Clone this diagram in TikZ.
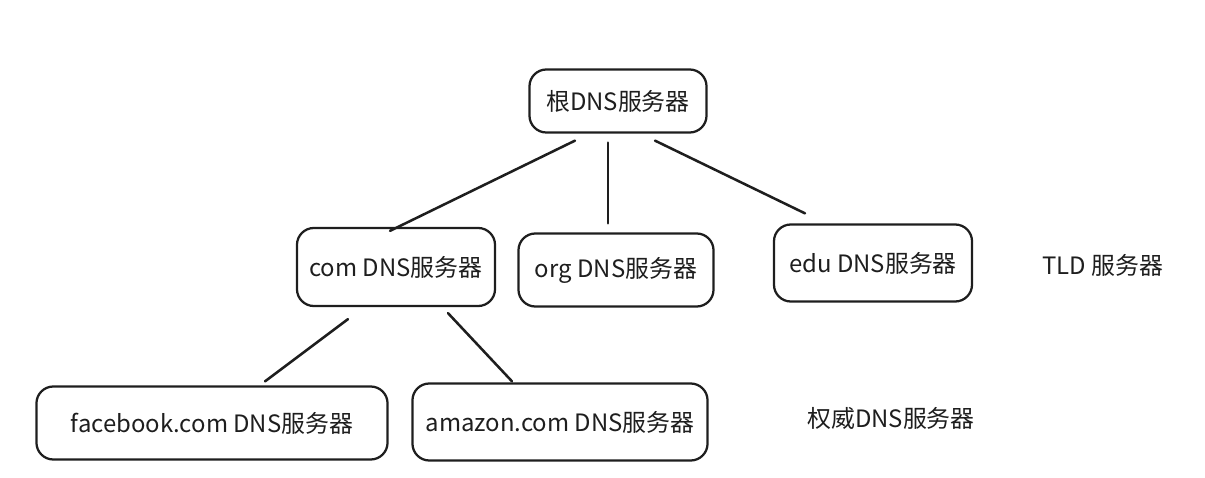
\documentclass[tikz,border=0pt]{standalone}
\usepackage{fontspec}
\setmainfont{Noto Sans CJK SC}
\usetikzlibrary{calc}
\definecolor{ink}{HTML}{1E1E1E}
\begin{document}
\begin{tikzpicture}[x=0.025cm,y=-0.025cm,
    box/.style={draw=ink,line width=1.6pt,rounded corners=12pt,font=\fontsize{17}{20}\selectfont,text=ink},
    lbl/.style={font=\fontsize{17}{20}\selectfont,text=ink},
    edge/.style={draw=ink,line width=1.8pt,line cap=round}]
    \useasboundingbox (0,0) rectangle (1205,478);
    % servers
    \node[box,minimum width=4.425cm,minimum height=1.575cm] (root) at (618,101) {根DNS服务器};
    \node[box,minimum width=4.95cm,minimum height=1.95cm] (com) at (396,267) {com DNS服务器};
    \node[box,minimum width=4.875cm,minimum height=1.825cm] (org) at (616,270) {org DNS服务器};
    \node[box,minimum width=4.95cm,minimum height=1.925cm] (edu) at (873,263) {edu DNS服务器};
    \node[box,minimum width=8.775cm,minimum height=1.825cm] (fb) at (212,423) {facebook.com DNS服务器};
    \node[box,minimum width=7.375cm,minimum height=1.925cm] (amz) at (560,422) {amazon.com DNS服务器};
    % levels
    \node[lbl] (tld) at (1103,265) {TLD 服务器};
    \node[lbl] (auth) at (891,418) {权威DNS服务器};
    % tree
    \draw[edge] ($(root.south)+(-43,7)$) -- ($(com.north)+(-6,4)$);
    \draw[edge] ($(root.south)+(-10,9)$) -- ($(org.north)+(-8,-9)$);
    \draw[edge] ($(root.south)+(37,7)$) -- ($(edu.north)+(-68,-10)$);
    \draw[edge] ($(com.south)+(-48,12)$) -- ($(fb.north)+(53,-4)$);
    \draw[edge] ($(com.south)+(52,6)$) -- ($(amz.north)+(-48,-1)$);
\end{tikzpicture}
\end{document}
